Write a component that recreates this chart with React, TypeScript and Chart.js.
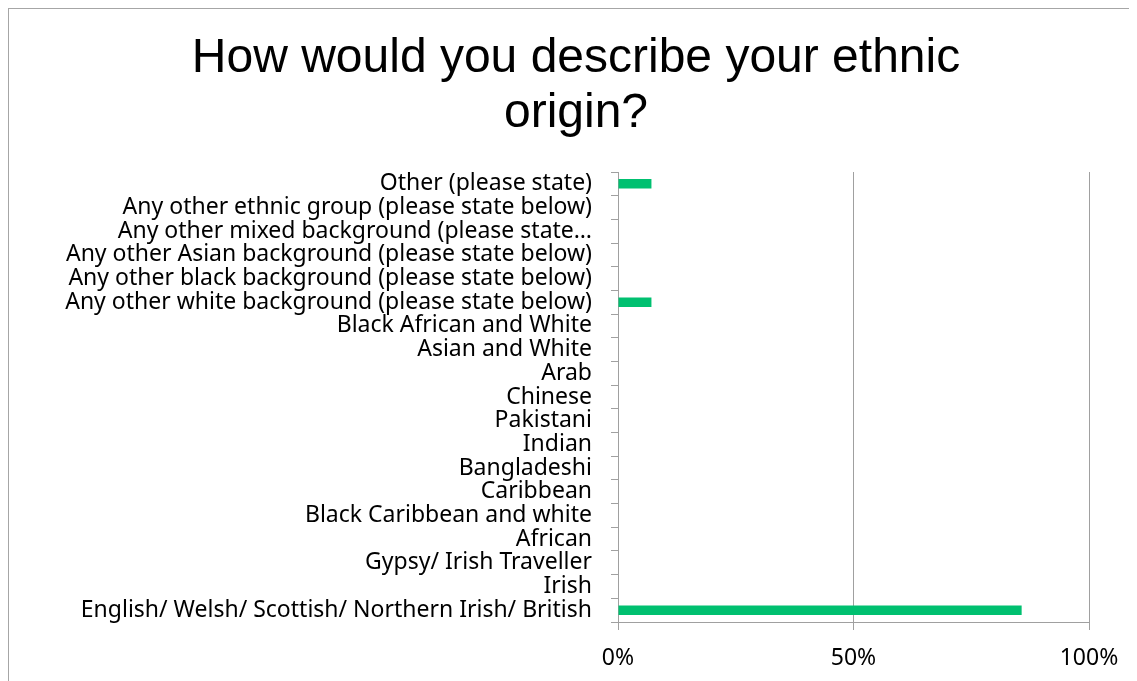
import React, { useEffect, useRef } from "react";
import { Chart, registerables } from "chart.js";

Chart.register(...registerables);

const categories = [
  "Other (please state)",
  "Any other ethnic group (please state below)",
  "Any other mixed background (please state…",
  "Any other Asian background (please state below)",
  "Any other black background (please state below)",
  "Any other white background (please state below)",
  "Black African and White",
  "Asian and White",
  "Arab",
  "Chinese",
  "Pakistani",
  "Indian",
  "Bangladeshi",
  "Caribbean",
  "Black Caribbean and white",
  "African",
  "Gypsy/ Irish Traveller",
  "Irish",
  "English/ Welsh/ Scottish/ Northern Irish/ British",
];

const percentValues = [7.1, 0, 0, 0, 0, 7.1, 0, 0, 0, 0, 0, 0, 0, 0, 0, 0, 0, 0, 85.7];

const xTicks = [0, 50, 100];

const titleLines = ["How would you describe your ethnic", "origin?"];

const W = 1134;
const H = 672;
const PAD = 54;

export default function App() {
  const ref = useRef<HTMLCanvasElement | null>(null);

  useEffect(() => {
    document.documentElement.style.overflow = "hidden";
    document.body.style.overflow = "hidden";
    const canvas = ref.current!;
    const chart = new Chart(canvas, {
      type: "bar",
      data: {
        labels: categories,
        datasets: [
          {
            data: percentValues,
            backgroundColor: "rgb(0,192,112)",
            borderWidth: 0,
            barPercentage: 0.4,
            categoryPercentage: 1,
          },
        ],
      },
      options: {
        indexAxis: "y",
        animation: false,
        responsive: false,
        devicePixelRatio: 1,
        layout: { padding: { left: PAD, right: PAD, top: 0, bottom: 0 } },
        plugins: {
          legend: { display: false },
          tooltip: { enabled: false },
          title: {
            display: true,
            text: titleLines,
            color: "#000",
            font: { family: "'Liberation Sans', Arial, sans-serif", size: 48, weight: "normal", lineHeight: 1.15 },
            padding: { top: 22, bottom: 30.6 },
          },
        },
        scales: {
          x: {
            min: 0,
            max: 100,
            afterBuildTicks: (scale: any) => {
              scale.ticks = xTicks.map((v) => ({ value: v }));
            },
            afterFit: (scale: any) => {
              scale.height = H - 613;
            },
            grid: {
              color: "#a0a0a0",
              lineWidth: 1,
              drawTicks: true,
              tickLength: 8,
            },
            border: { display: true, color: "#a0a0a0", width: 1 },
            ticks: {
              color: "#000",
              padding: 15,
              font: { family: "'Noto Sans', sans-serif", size: 23 },
              callback: (v: any) => v + "%",
            },
          },
          y: {
            afterFit: (scale: any) => {
              scale.width = 609 - PAD;
            },
            grid: {
              offset: true,
              drawOnChartArea: false,
              drawTicks: true,
              tickLength: 7,
              color: "#a0a0a0",
            },
            border: { display: true, color: "#a0a0a0", width: 1 },
            ticks: {
              color: "#000",
              padding: 19,
              autoSkip: false,
              font: { family: "'Noto Sans', sans-serif", size: 23 },
            },
          },
        },
      },
    } as any);
    return () => chart.destroy();
  }, []);

  return (
    <div
      style={{
        width: W + 1,
        height: H + 1,
        borderTop: "1px solid #a6a6a6",
        borderLeft: "1px solid #a6a6a6",
        boxSizing: "border-box",
        position: "relative",
        overflow: "visible",
      }}
    >
      <canvas ref={ref} width={W} height={H} style={{ display: "block", width: W, height: H }} />
    </div>
  );
}
